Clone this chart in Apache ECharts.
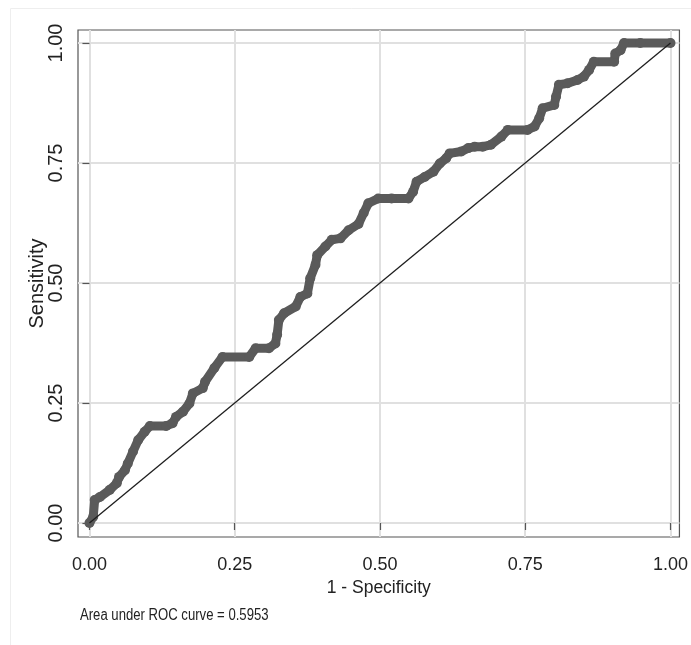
<!DOCTYPE html>
<html>
<head>
<meta charset="utf-8">
<script src="https://cdn.jsdelivr.net/npm/echarts@6/dist/echarts.min.js"></script>
<style>
html,body{margin:0;padding:0;background:#fff;}
#chart{width:691px;height:645px;}
</style>
</head>
<body>
<div id="chart"></div>
<script>
// 1 - Specificity (false positive rate)
var fpr = [0, 0.0065, 0.009, 0.018, 0.035, 0.047, 0.051, 0.061, 0.066, 0.075,
  0.084, 0.095, 0.104, 0.132, 0.143, 0.149, 0.161, 0.172, 0.178, 0.195,
  0.199, 0.215, 0.229, 0.275, 0.286, 0.309, 0.320, 0.323, 0.326, 0.335,
  0.355, 0.363, 0.375, 0.380, 0.389, 0.392, 0.406, 0.417, 0.432, 0.446,
  0.463, 0.472, 0.480, 0.497, 0.520, 0.549, 0.557, 0.563, 0.577, 0.592,
  0.603, 0.614, 0.620, 0.640, 0.652, 0.663, 0.677, 0.691, 0.709, 0.720,
  0.754, 0.766, 0.774, 0.780, 0.800, 0.803, 0.808, 0.823, 0.840, 0.851,
  0.860, 0.868, 0.903, 0.905, 0.914, 0.920, 0.948, 1.0];
// Sensitivity (true positive rate)
var tpr = [0, 0.013, 0.048, 0.054, 0.069, 0.083, 0.096, 0.110, 0.124, 0.149,
  0.173, 0.190, 0.202, 0.202, 0.208, 0.221, 0.232, 0.249, 0.270, 0.281,
  0.294, 0.323, 0.346, 0.346, 0.364, 0.364, 0.374, 0.392, 0.423, 0.437,
  0.451, 0.471, 0.478, 0.510, 0.538, 0.558, 0.576, 0.590, 0.593, 0.610,
  0.623, 0.646, 0.666, 0.676, 0.676, 0.676, 0.690, 0.711, 0.721, 0.732,
  0.749, 0.760, 0.770, 0.774, 0.781, 0.784, 0.784, 0.788, 0.805, 0.819,
  0.819, 0.826, 0.843, 0.864, 0.871, 0.888, 0.913, 0.916, 0.923, 0.930,
  0.944, 0.961, 0.961, 0.978, 0.985, 1.0, 1.0, 1.0];
// reference (chance) line
var refX = [0, 1];
var refY = [0, 1];
// tick values
var tickValues = [0, 0.25, 0.5, 0.75, 1];
var xTitle = '1 - Specificity';
var yTitle = 'Sensitivity';
var note = 'Area under ROC curve = 0.5953';

var rocData = fpr.map(function (x, i) { return [x, tpr[i]]; });
var refData = refX.map(function (x, i) { return [x, refY[i]]; });

var FONT = '"Liberation Sans", Arial, sans-serif';
var chart = echarts.init(document.getElementById('chart'), null, {renderer: 'canvas'});
var fmt = function (v) { return v.toFixed(2); };
chart.setOption({
  animation: false,
  backgroundColor: '#ffffff',
  graphic: [{
    type: 'rect', left: 8, top: 6, z: -10,
    shape: {width: 700, height: 637},
    style: {fill: 'none', stroke: '#eeeeee', lineWidth: 1}
  }, {
    type: 'text', x: 80, y: 608, scaleX: 0.82, originX: 0, originY: 0,
    style: {text: note, fontFamily: FONT, fontSize: 16, fill: '#222'}
  }],
  grid: {left: 78, right: 8, top: 30, bottom: 108, show: true,
    borderColor: '#555', borderWidth: 1.2, backgroundColor: '#fff'},
  xAxis: {
    type: 'value', min: -0.0197, max: 1.0154,
    name: xTitle, nameLocation: 'middle', nameGap: 42, nameMoveOverlap: false,
    nameTextStyle: {fontFamily: FONT, fontSize: 17.5, color: '#222'},
    axisLine: {show: false},
    axisTick: {show: true, length: 7, customValues: tickValues, lineStyle: {color: '#555', width: 1.2}},
    axisLabel: {customValues: tickValues, formatter: fmt, margin: 19,
      fontFamily: FONT, fontSize: 18, color: '#222'},
    splitLine: {show: true, lineStyle: {color: '#e0e0e0', width: 2}}
  },
  yAxis: {
    type: 'value', min: -0.0292, max: 1.0271,
    name: yTitle, nameLocation: 'middle', nameGap: 31, nameRotate: 90, nameMoveOverlap: false,
    nameTextStyle: {fontFamily: FONT, fontSize: 20, color: '#222'},
    axisLine: {show: false},
    axisTick: {show: true, length: 7, customValues: tickValues, lineStyle: {color: '#555', width: 1.2}},
    axisLabel: {customValues: tickValues, formatter: fmt, rotate: 90, margin: 12,
      fontFamily: FONT, fontSize: 20, color: '#222'},
    splitLine: {show: true, lineStyle: {color: '#e0e0e0', width: 2}}
  },
  series: [{
    type: 'line', data: rocData,
    symbol: 'circle', symbolSize: 10, showSymbol: true,
    itemStyle: {color: '#5a5a5a'},
    lineStyle: {color: '#5a5a5a', width: 9, cap: 'round', join: 'round'},
    z: 3
  }, {
    type: 'line', data: refData, symbol: 'none',
    lineStyle: {color: '#1e1e1e', width: 1.3},
    z: 4
  }]
});
</script>
</body>
</html>
